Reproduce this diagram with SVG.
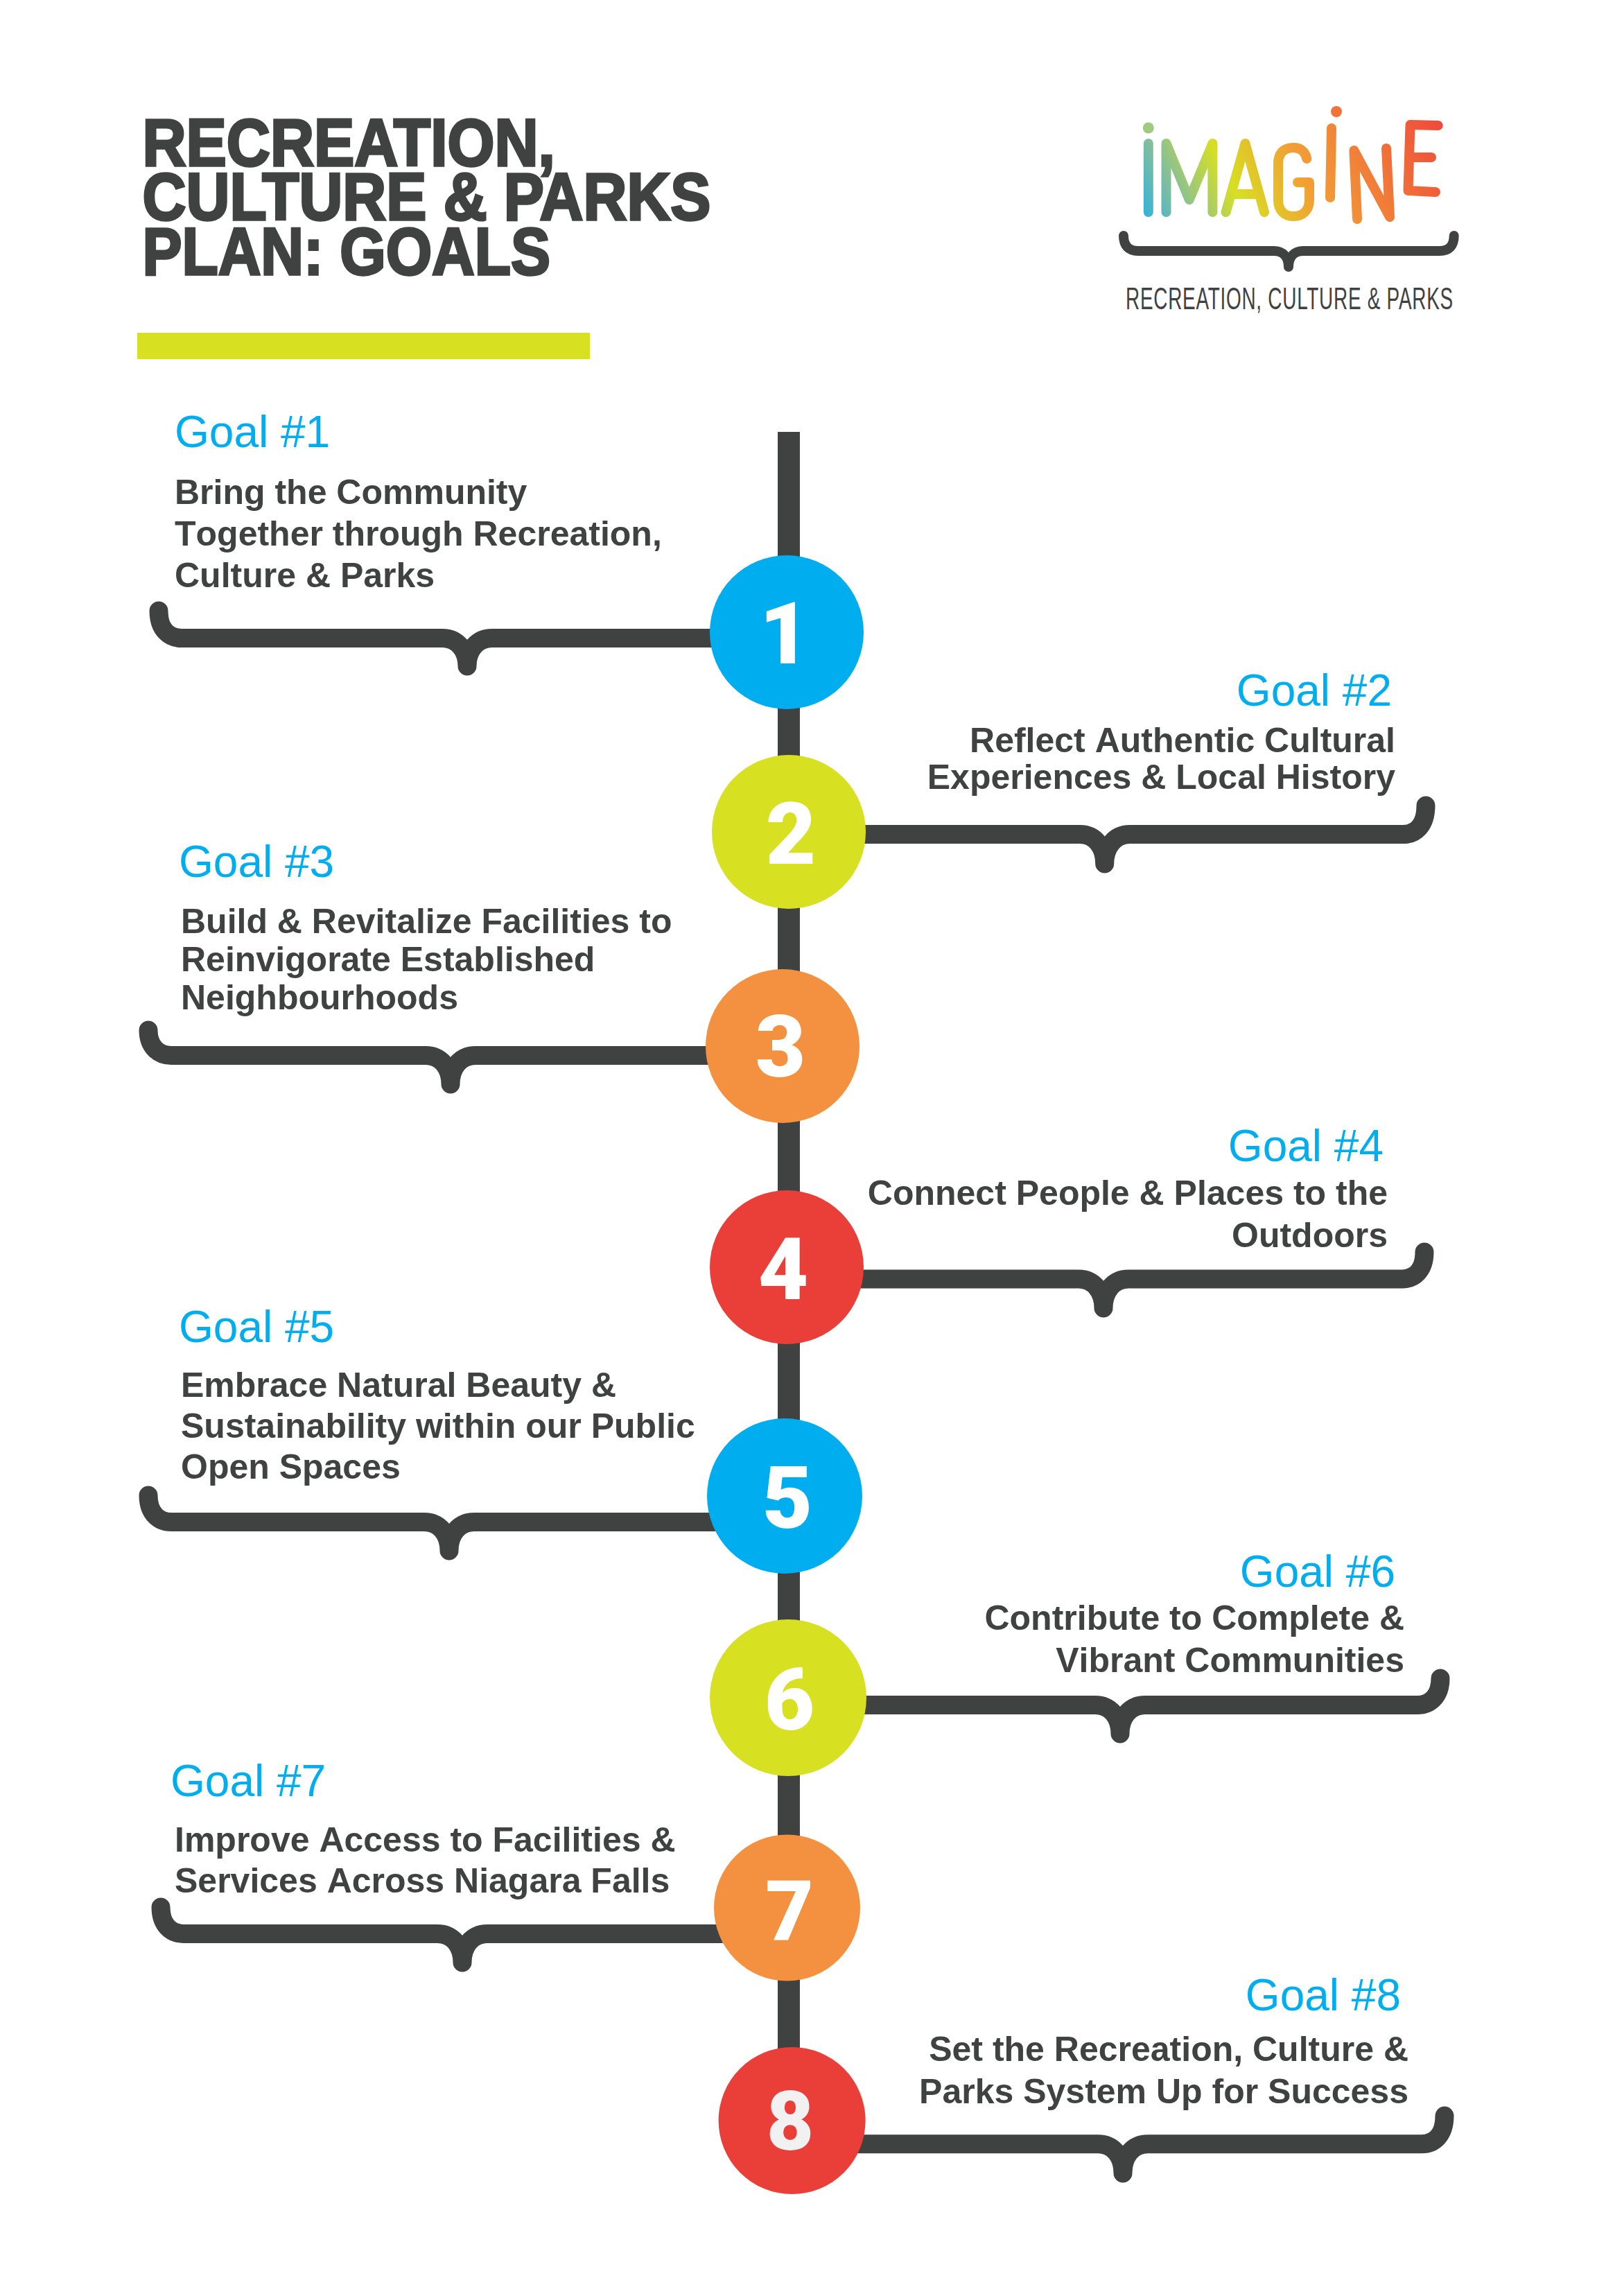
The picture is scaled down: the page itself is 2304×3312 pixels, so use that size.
<svg xmlns="http://www.w3.org/2000/svg" width="2304" height="3312" viewBox="0 0 2304 3312">
<style>
.title{font:bold 96px "Liberation Sans",Arial,sans-serif;fill:#404242;stroke:#404242;stroke-width:3.5px}
.goal{font:64px "Liberation Sans",Arial,sans-serif;fill:#00aeef}
.body{font:bold 50px "Liberation Sans",Arial,sans-serif;fill:#404242;font-kerning:none}
.end{text-anchor:end}
.num{font:900 125px Roboto,sans-serif;fill:#fff;text-anchor:middle}
.brace{fill:none;stroke:#404242;stroke-width:27;stroke-linejoin:round;stroke-linecap:round}
.logo{fill:none;stroke:url(#g);stroke-width:14;stroke-linecap:round;stroke-linejoin:round}
.blue{fill:#00aeef}.lime{fill:#d7e021}.orange{fill:#f49140}.red{fill:#ea3f39}
</style>
<defs>
<linearGradient id="g" gradientUnits="userSpaceOnUse" x1="1640" y1="320" x2="2080" y2="110">
<stop offset="0" stop-color="#1fb0e8"/><stop offset="0.13" stop-color="#80bda0"/><stop offset="0.3" stop-color="#d7df23"/><stop offset="0.5" stop-color="#f2a033"/><stop offset="0.62" stop-color="#f18a38"/><stop offset="1" stop-color="#ee3e3b"/>
</linearGradient>
</defs>
<rect width="2304" height="3312" fill="#fff"/>
<g id="title">
<text class="title" transform="translate(205.500 239) scale(0.91 1)">RECREATION,</text>
<text class="title" transform="translate(205.500 317) scale(0.908 1)">CULTURE &amp; PARKS</text>
<text class="title" transform="translate(205.500 396) scale(0.89 1)">PLAN: GOALS</text>
<rect x="198" y="480" width="653" height="38" fill="#d7e021"/>
</g>
<g id="logo">
<circle cx="1656.8" cy="184.5" r="8" fill="#9ecb7f"/>
<circle cx="1928" cy="161" r="8" fill="#f1733a"/>
<path class="logo" d="M1656.8 207V306"/>
<path class="logo" d="M1682.5 306V207L1715.8 288L1749.4 207V306"/>
<path class="logo" d="M1768.6 306L1796.5 207L1824 306M1778 280H1814.5"/>
<path class="logo" d="M1885.3 229C1883 218 1876 213 1866 213C1851 213 1844 222 1844 236V288C1844 303 1852 312 1866 312C1880 312 1889 303 1889 288V263H1872"/>
<path class="logo" d="M1921 185L1919 285"/>
<path class="logo" d="M1958 316L1953.4 217L2005 313L2000 214"/>
<path class="logo" d="M2074.7 181L2034.5 180L2031.5 275L2071 277M2033.8 227H2065"/>
<path d="M1621 340C1621 354 1628 362 1642 362H1838C1850 362 1859 370 1859 385C1859 370 1868 362 1880 362H2077C2091 362 2097.7 354 2097.7 340" fill="none" stroke="#404242" stroke-width="14" stroke-linecap="round" stroke-linejoin="round"/>
<text transform="translate(1624 446) scale(0.635 1)" font-family="Liberation Sans,sans-serif" font-size="44" letter-spacing="1.15" fill="#404242">RECREATION, CULTURE &amp; PARKS</text>
</g>
<g id="connectors">
<rect x="1122" y="623" width="32" height="2400" fill="#404242"/>
<path class="brace" d="M229 881C229 908 244 920.5 262 920.5H638C660 920.5 674 938 674 961C674 938 688 920.5 710 920.5H1040"/>
<path class="brace" d="M2057 1162C2057 1191 2042 1203.6 2024 1203.6H1630C1608 1203.6 1593.7 1222 1593.7 1246C1593.7 1222 1580 1203.6 1558 1203.6H1240"/>
<path class="brace" d="M214 1486C214 1510 229 1522.5 247 1522.5H614C636 1522.5 650 1540 650 1564C650 1540 664 1522.5 686 1522.5H1030"/>
<path class="brace" d="M2055 1806C2055 1833 2040 1845 2022 1845H1628C1606 1845 1592 1863 1592 1887C1592 1863 1578 1845 1556 1845H1240"/>
<path class="brace" d="M214 2157C214 2183 229 2195.5 247 2195.5H612C634 2195.5 648 2213 648 2237C648 2213 662 2195.5 684 2195.5H1030"/>
<path class="brace" d="M2078 2421C2078 2447 2063 2459.5 2045 2459.5H1652C1630 2459.5 1616 2477 1616 2501C1616 2477 1602 2459.5 1580 2459.5H1240"/>
<path class="brace" d="M232 2751C232 2777 247 2789.5 265 2789.5H631C653 2789.5 667 2807 667 2831C667 2807 681 2789.5 703 2789.5H1040"/>
<path class="brace" d="M2084 3052C2084 3080 2069 3092.7 2051 3092.7H1656C1634 3092.7 1620 3110 1620 3135C1620 3110 1606 3092.7 1584 3092.7H1240"/>
</g>
<g id="goal1"><circle class="blue" cx="1135" cy="912" r="111"/><text class="num" x="1132" y="957">1</text>
<text class="goal" x="252" y="645">Goal #1</text><text class="body" x="252" y="727">Bring the Community</text><text class="body" x="252" y="787">Together through Recreation,</text><text class="body" x="252" y="847">Culture &amp; Parks</text></g>
<g id="goal2"><circle class="lime" cx="1138" cy="1200" r="111"/><text class="num" x="1141" y="1246">2</text>
<text class="goal end" x="2008" y="1018">Goal #2</text><text class="body end" x="2013" y="1085">Reflect Authentic Cultural</text><text class="body end" x="2013" y="1138">Experiences &amp; Local History</text></g>
<g id="goal3"><circle class="orange" cx="1129" cy="1509" r="111"/><text class="num" x="1126" y="1553">3</text>
<text class="goal" x="258" y="1265">Goal #3</text><text class="body" x="261" y="1346">Build &amp; Revitalize Facilities to</text><text class="body" x="261" y="1401">Reinvigorate Established</text><text class="body" x="261" y="1456">Neighbourhoods</text></g>
<g id="goal4"><circle class="red" cx="1135" cy="1828" r="111"/><text class="num" x="1130" y="1874">4</text>
<text class="goal end" x="1996" y="1675">Goal #4</text><text class="body end" x="2002" y="1738">Connect People &amp; Places to the</text><text class="body end" x="2002" y="1799">Outdoors</text></g>
<g id="goal5"><circle class="blue" cx="1132" cy="2158" r="112"/><text class="num" x="1136" y="2204">5</text>
<text class="goal" x="258" y="1936">Goal #5</text><text class="body" x="261" y="2015">Embrace Natural Beauty &amp;</text><text class="body" x="261" y="2074">Sustainability within our Public</text><text class="body" x="261" y="2133">Open Spaces</text></g>
<g id="goal6"><circle class="lime" cx="1137" cy="2449" r="113"/><text class="num" x="1139" y="2495">6</text>
<text class="goal end" x="2013" y="2289">Goal #6</text><text class="body end" x="2026" y="2351">Contribute to Complete &amp;</text><text class="body end" x="2026" y="2412">Vibrant Communities</text></g>
<g id="goal7"><circle class="orange" cx="1135.5" cy="2752" r="105.5"/><text class="num" x="1139" y="2799" style="font-size:120px">7</text>
<text class="goal" x="246" y="2591">Goal #7</text><text class="body" x="252" y="2671">Improve Access to Facilities &amp;</text><text class="body" x="252" y="2730">Services Across Niagara Falls</text></g>
<g id="goal8"><circle class="red" cx="1142.6" cy="3059" r="106"/><text class="num" x="1140" y="3101" style="font-size:118px;fill:#f1f1f2">8</text>
<text class="goal end" x="2021" y="2900">Goal #8</text><text class="body end" x="2032" y="2973">Set the Recreation, Culture &amp;</text><text class="body end" x="2032" y="3034">Parks System Up for Success</text></g>
</svg>
